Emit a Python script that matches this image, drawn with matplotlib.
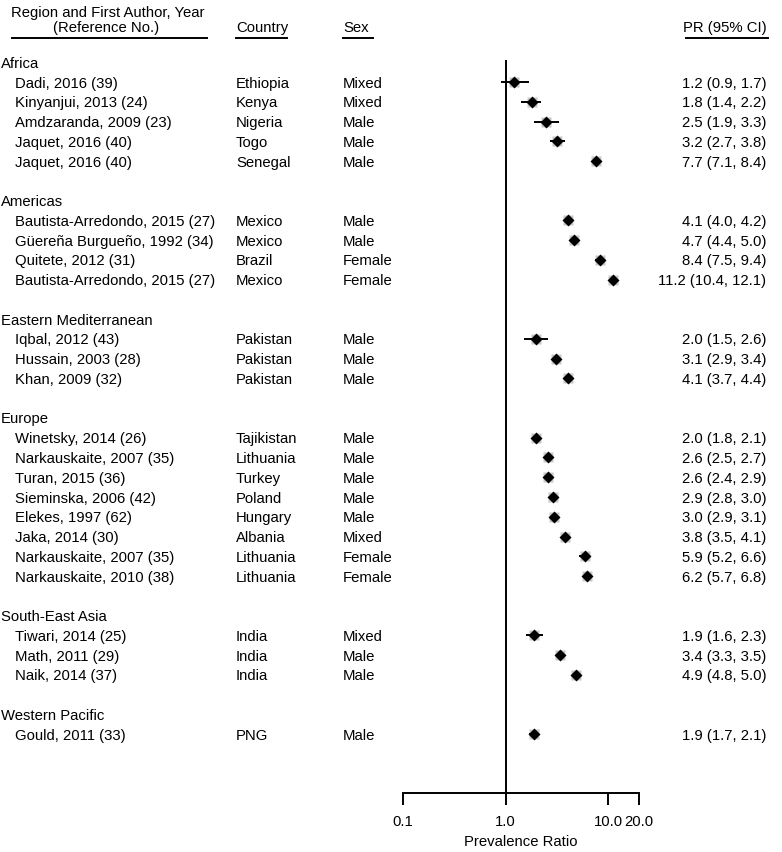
import matplotlib.pyplot as plt
from matplotlib.lines import Line2D
from matplotlib.ticker import NullLocator
from matplotlib.transforms import blended_transform_factory

plt.rcParams['font.family'] = ['Liberation Sans', 'DejaVu Sans']
plt.rcParams['font.size'] = 10.7

# data
regions = ["Africa", "Americas", "Eastern Mediterranean", "Europe",
           "South-East Asia", "Western Pacific"]
group = [0, 0, 0, 0, 0, 1, 1, 1, 1, 2, 2, 2, 3, 3, 3, 3, 3, 3, 3, 3, 4, 4, 4, 5]
authors = ["Dadi, 2016 (39)", "Kinyanjui, 2013 (24)", "Amdzaranda, 2009 (23)",
           "Jaquet, 2016 (40)", "Jaquet, 2016 (40)",
           "Bautista-Arredondo, 2015 (27)", "Güereña Burgueño, 1992 (34)",
           "Quitete, 2012 (31)", "Bautista-Arredondo, 2015 (27)",
           "Iqbal, 2012 (43)", "Hussain, 2003 (28)", "Khan, 2009 (32)",
           "Winetsky, 2014 (26)", "Narkauskaite, 2007 (35)", "Turan, 2015 (36)",
           "Sieminska, 2006 (42)", "Elekes, 1997 (62)", "Jaka, 2014 (30)",
           "Narkauskaite, 2007 (35)", "Narkauskaite, 2010 (38)",
           "Tiwari, 2014 (25)", "Math, 2011 (29)", "Naik, 2014 (37)",
           "Gould, 2011 (33)"]
countries = ["Ethiopia", "Kenya", "Nigeria", "Togo", "Senegal",
             "Mexico", "Mexico", "Brazil", "Mexico",
             "Pakistan", "Pakistan", "Pakistan",
             "Tajikistan", "Lithuania", "Turkey", "Poland", "Hungary", "Albania",
             "Lithuania", "Lithuania",
             "India", "India", "India", "PNG"]
sexes = ["Mixed", "Mixed", "Male", "Male", "Male",
         "Male", "Male", "Female", "Female",
         "Male", "Male", "Male",
         "Male", "Male", "Male", "Male", "Male", "Mixed", "Female", "Female",
         "Mixed", "Male", "Male", "Male"]
pr = [1.2, 1.8, 2.5, 3.2, 7.7, 4.1, 4.7, 8.4, 11.2, 2.0, 3.1, 4.1,
      2.0, 2.6, 2.6, 2.9, 3.0, 3.8, 5.9, 6.2, 1.9, 3.4, 4.9, 1.9]
lo = [0.9, 1.4, 1.9, 2.7, 7.1, 4.0, 4.4, 7.5, 10.4, 1.5, 2.9, 3.7,
      1.8, 2.5, 2.4, 2.8, 2.9, 3.5, 5.2, 5.7, 1.6, 3.3, 4.8, 1.7]
hi = [1.7, 2.2, 3.3, 3.8, 8.4, 4.2, 5.0, 9.4, 12.1, 2.6, 3.4, 4.4,
      2.1, 2.7, 2.9, 3.0, 3.1, 4.1, 6.6, 6.8, 2.3, 3.5, 5.0, 2.1]
xticks = [0.1, 1, 10, 20]
xticklabels = ["0.1", "1.0", "10.0", "20.0"]

# row layout: region header, studies, blank line
header_rows = []
study_rows = []
r = 0
for g in range(len(regions)):
    header_rows.append(r)
    r += 1
    for i in range(len(group)):
        if group[i] == g:
            study_rows.append(r)
            r += 1
    r += 1

W, H = 782, 852
fig = plt.figure(figsize=(W / 100, H / 100), dpi=100)
ax = fig.add_axes([403 / W, (H - 793) / H, (639 - 403) / W, (793 - 60) / H])
ax.set_xscale('log')
ax.set_xlim(0.1, 20)
row0, step = 62.3, 19.76
ax.set_ylim((793 - row0) / step, (60 - row0) / step)

ax.axvline(1, color='black', lw=1.4)
ax.plot(pr, study_rows, 's', ms=7.8, color='#c8c8c8', mec='none', zorder=3, clip_on=False)
ax.hlines(study_rows, lo, hi, color='black', lw=1.4, zorder=4)
ax.plot(pr, study_rows, 'D', ms=5.8, color='black', mec='none', zorder=5, clip_on=False)

for s in ['top', 'right', 'left']:
    ax.spines[s].set_visible(False)
ax.spines['bottom'].set_bounds(0.1, 20)
ax.spines['bottom'].set_linewidth(1.4)
ax.set_xticks(xticks)
ax.set_xticklabels(xticklabels)
ax.xaxis.set_minor_locator(NullLocator())
ax.tick_params(axis='x', length=8.6, width=1.4, pad=7.5)
ax.set_yticks([])
ax.set_xlabel("Prevalence Ratio", labelpad=4)

# text columns
tr = blended_transform_factory(fig.transFigure, ax.transData)
for g, row in enumerate(header_rows):
    ax.text(1 / W, row, regions[g], transform=tr, va='center_baseline')
for i, row in enumerate(study_rows):
    ax.text(15 / W, row, authors[i], transform=tr, va='center_baseline')
    ax.text(236 / W, row, countries[i], transform=tr, va='center_baseline')
    ax.text(343 / W, row, sexes[i], transform=tr, va='center_baseline')
    ax.text(766 / W, row, f"{pr[i]:.1f} ({lo[i]:.1f}, {hi[i]:.1f})",
            transform=tr, va='center_baseline', ha='right')

# column headers
fig.text(108 / W, 1 - 17 / H, "Region and First Author, Year", ha='center', va='baseline')
fig.text(106 / W, 1 - 32 / H, "(Reference No.)", ha='center', va='baseline')
fig.text(236 / W, 1 - 32 / H, "Country", va='baseline')
fig.text(343 / W, 1 - 32 / H, "Sex", va='baseline')
fig.text(767 / W, 1 - 32 / H, "PR (95% CI)", ha='right', va='baseline')
for x0, x1 in [(12, 207), (236, 287), (343, 373), (686, 768)]:
    fig.add_artist(Line2D([x0 / W, x1 / W], [1 - 38 / H] * 2,
                          transform=fig.transFigure, color='black', lw=1.4))

fig.savefig('out.png', dpi=100)
